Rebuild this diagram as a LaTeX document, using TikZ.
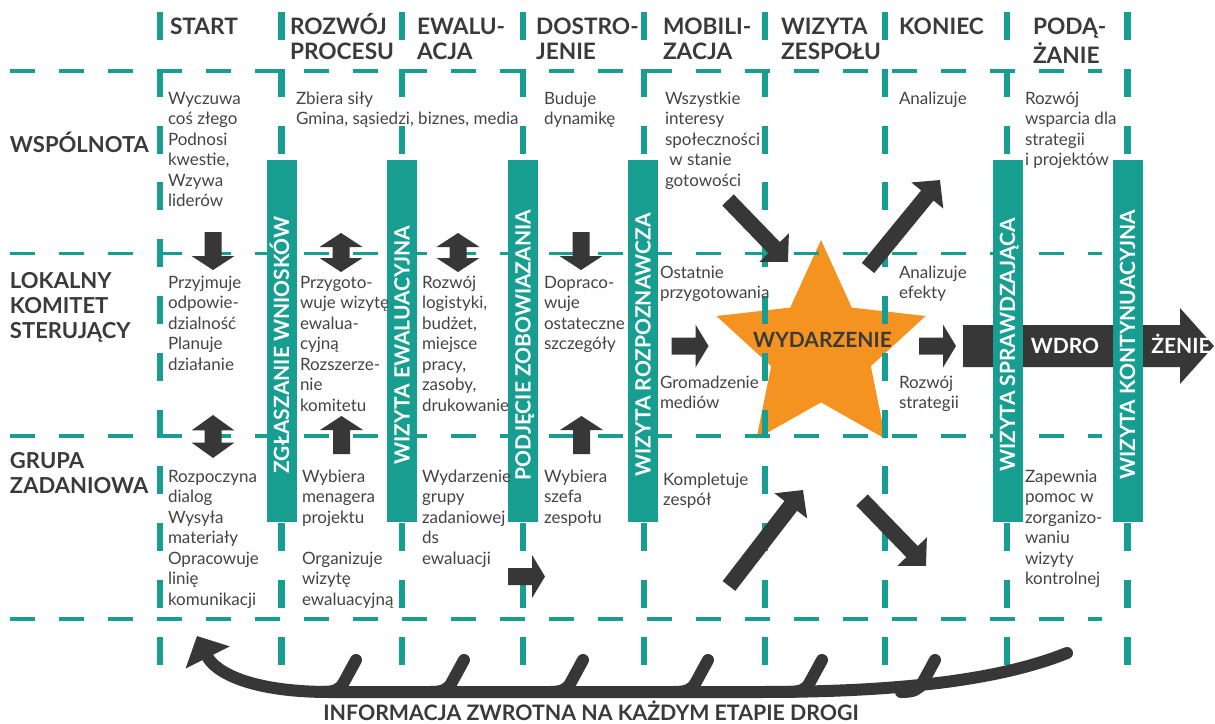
\documentclass[tikz,border=0pt]{standalone}
\usepackage{fontspec}
\setmainfont{Lato}
\usetikzlibrary{shapes.geometric,arrows.meta}

\definecolor{tealc}{RGB}{24,158,144}
\definecolor{arrowgray}{RGB}{55,55,55}
\definecolor{ink}{RGB}{58,58,58}
\definecolor{bodyink}{RGB}{68,68,68}
\definecolor{starorange}{RGB}{245,147,33}

\newcommand\bodyfont{\fontsize{12.75}{15.4}\selectfont}
\newcommand\headfont{\bfseries\fontsize{17}{18.75}\selectfont}
\newcommand\rowfont{\bfseries\fontsize{16.5}{18.75}\selectfont}
\newcommand\bandfont{\bfseries\fontsize{15.75}{16}\selectfont}
\newcommand\txtlines[1]{\begin{tabular}[t]{@{}l@{}}#1\end{tabular}}

\tikzset{
  every node/.style={inner sep=0pt, outer sep=0pt},
  body/.style={anchor=base west, font=\bodyfont, text=bodyink},
  head/.style={anchor=base west, font=\headfont, text=ink},
  rowlab/.style={anchor=base west, font=\rowfont, text=ink},
  bandbar/.style={fill=tealc, minimum width=22.5pt, minimum height=271.5pt},
  bandtxt/.style={rotate=90, anchor=center, font=\bandfont, text=white, text height=11.3pt, text depth=0pt},
  vgrid/.style={draw=tealc, line width=4.6pt, dash pattern=on 21pt off 21.6pt},
  hgrid/.style={draw=tealc, line width=2.3pt, dash pattern=on 19.1pt off 17.65pt},
  diag/.style={draw=arrowgray, line width=12pt, -{Triangle[width=30pt,length=15pt]}},
  fb/.style={draw=arrowgray, line width=9pt, line cap=round},
  pics/downblk/.style={code={\fill[arrowgray] (-8.5,-19) -- (8.5,-19) -- (8.5,5) -- (21.5,5) -- (0,19) -- (-21.5,5) -- (-8.5,5) -- cycle;}},
  pics/upblk/.style={code={\fill[arrowgray] (-8.5,19) -- (8.5,19) -- (8.5,-5) -- (21.5,-5) -- (0,-19) -- (-21.5,-5) -- (-8.5,-5) -- cycle;}},
  pics/updownblk/.style={code={\fill[arrowgray] (0,-19.5) -- (21.5,-5.5) -- (8.5,-5.5) -- (8.5,5.5) -- (21.5,5.5) -- (0,19.5) -- (-21.5,5.5) -- (-8.5,5.5) -- (-8.5,-5.5) -- (-21.5,-5.5) -- cycle;}},
  pics/rightblk/.style={code={\fill[arrowgray] (-18.5,-8.5) -- (5.5,-8.5) -- (5.5,-21.5) -- (18.5,0) -- (5.5,21.5) -- (5.5,8.5) -- (-18.5,8.5) -- cycle;}},
}

\begin{document}
\begin{tikzpicture}[x=0.75pt, y=-0.75pt]
\useasboundingbox (0,0) rectangle (1215,724);
\fill[white] (0,0) rectangle (1215,724);

% central event star
\node[star, star points=5, star point ratio=2.1, minimum size=165pt, fill=starorange] (star) at (821,350) {};

% dashed grid
\foreach \gx in {160,281.5,402,523,644,765,885,1007,1127.5}
  \draw[vgrid] (\gx,12) -- (\gx,665);
\foreach \gy in {71,253.5,436,619}
  \draw[hgrid] (10,\gy) -- (1102,\gy);

% implementation arrow
\fill[arrowgray] (963,325) -- (1180,325) -- (1180,308) -- (1214,346) -- (1180,384) -- (1180,367) -- (963,367) -- cycle;

% visit bands
\foreach \bx/\bn in {281.5/b1,402/b2,523/b3,643/b4,1007.5/b5,1127.5/b6}
  \node[bandbar] (\bn) at (\bx,341) {};
\node[bandtxt] (t1) at (281.5,345) {ZGŁASZANIE WNIOSKÓW};
\node[bandtxt] (t2) at (402,345) {WIZYTA EWALUACYJNA};
\node[bandtxt] (t3) at (523,345) {PODJĘCIE ZOBOWIAZANIA};
\node[bandtxt] (t4) at (643,345) {WIZYTA ROZPOZNAWCZA};
\node[bandtxt] (t5) at (1007.5,345) {WIZYTA SPRAWDZAJĄCA};
\node[bandtxt] (t6) at (1127.5,345) {WIZYTA KONTYNUACYJNA};

% stage headers
\node[head] (hStart) at (170,35) {START};
\node[head] (hRozwoj) at (290,35) {\txtlines{ROZWÓJ\\PROCESU}};
\node[head] (hEwal) at (417,35) {\txtlines{EWALU-\\ACJA}};
\node[head] (hDostr) at (536,35) {\txtlines{DOSTRO-\\JENIE}};
\node[head] (hMobil) at (663,35) {\txtlines{MOBILI-\\ZACJA}};
\node[head] (hWiz) at (781,35) {\txtlines{WIZYTA\\ZESPOŁU}};
\node[head] (hKon) at (899,35) {KONIEC};
\node[head] (hPod) at (1033,35) {\txtlines{PODĄ-\\ŻANIE}};

% row labels
\node[rowlab] (rWsp) at (10,152) {WSPÓLNOTA};
\node[rowlab] (rLok) at (10,288) {\txtlines{LOKALNY\\KOMITET\\STERUJĄCY}};
\node[rowlab] (rGrp) at (10,468) {\txtlines{GRUPA\\ZADANIOWA}};

% community row
\node[body] (a1) at (168,104) {\txtlines{Wyczuwa\\coś złego\\Podnosi\\kwestie,\\Wzywa\\liderów}};
\node[body] (a2) at (296,104) {\txtlines{Zbiera siły\\Gmina, sąsiedzi, biznes, media}};
\node[body] (a4) at (544,104) {\txtlines{Buduje\\dynamikę}};
\node[body] (a5) at (665,104) {\txtlines{Wszystkie\\interesy\\społeczności\\\ w stanie\\gotowości}};
\node[body] (a7) at (899,104) {Analizuje};
\node[body] (a8) at (1025,104) {\txtlines{Rozwój\\wsparcia dla\\strategii\\i projektów}};

% steering committee row
\node[body] (b1t) at (168,288) {\txtlines{Przyjmuje\\odpowie-\\dzialność\\Planuje\\działanie}};
\node[body] (b2t) at (300,288) {\txtlines{Przygoto-\\wuje wizytę\\ewalua-\\cyjną\\Rozszerze-\\nie\\komitetu}};
\node[body] (b3t) at (422,288) {\txtlines{Rozwój\\logistyki,\\budżet,\\miejsce\\pracy,\\zasoby,\\drukowanie}};
\node[body] (b4t) at (544,288) {\txtlines{Dopraco-\\wuje\\ostateczne\\szczegóły}};
\node[body] (b5t) at (660,278) {\txtlines{Ostatnie\\przygotowania}};
\node[body] (b5u) at (660,388) {\txtlines{Gromadzenie\\mediów}};
\node[body] (b7t) at (899,278) {\txtlines{Analizuje\\efekty}};
\node[body] (b7u) at (899,388) {\txtlines{Rozwój\\strategii}};

% task group row
\node[body] (c1t) at (168,482) {\txtlines{Rozpoczyna\\dialog\\Wysyła\\materiały\\Opracowuje\\linię\\komunikacji}};
\node[body] (c2t) at (302,482) {\txtlines{Wybiera\\menagera\\projektu\\ \\Organizuje\\wizytę\\ewaluacyjną}};
\node[body] (c3t) at (422,482) {\txtlines{Wydarzenie\\grupy\\zadaniowej\\ds\\ewaluacji}};
\node[body] (c4t) at (544,482) {\txtlines{Wybiera\\szefa\\zespołu}};
\node[body] (c5t) at (663,485) {\txtlines{Kompletuje\\zespół}};
\node[body] (c8t) at (1025,482) {\txtlines{Zapewnia\\pomoc w\\zorganizo-\\waniu\\wizyty\\kontrolnej}};

% block arrows between rows
\pic at (213,251) {downblk};
\pic at (581,251) {downblk};
\pic at (341,252.5) {updownblk};
\pic at (458,252.5) {updownblk};
\pic[yscale=1.1] at (213,436.5) {updownblk};
\pic at (341.5,435) {upblk};
\pic at (581.5,435) {upblk};
\pic at (526.5,576.5) {rightblk};
\pic at (690,346) {rightblk};
\pic at (937.5,346) {rightblk};

% event text and implementation labels
\node[anchor=base, font=\bfseries\fontsize{15.75}{18}\selectfont, text=ink] (ev) at (822.5,347) {WYDARZENIE};
\node[anchor=base, font=\bfseries\fontsize{15.75}{18}\selectfont, text=white] (wdro) at (1065,353) {WDRO};
\node[anchor=base, font=\bfseries\fontsize{15.75}{18}\selectfont, text=white] (zenie) at (1181,353) {ŻENIE};

% diagonal arrows around the event
\coordinate (d1s) at (728,200); \coordinate (d1e) at (788,262);
\coordinate (d2s) at (868,268); \coordinate (d2e) at (940,180);
\coordinate (d3s) at (729,586); \coordinate (d3e) at (803,490);
\coordinate (d4s) at (862,500); \coordinate (d4e) at (926,566);
\draw[diag] (d1s) -- (d1e);
\draw[diag] (d2s) -- (d2e);
\draw[diag] (d3s) -- (d3e);
\draw[diag] (d4s) -- (d4e);

% feedback loop
\coordinate (fbS) at (1067,653);
\coordinate (fbE) at (197,636);
\draw[fb, -{Triangle[width=36pt,length=18pt]}] (fbS) .. controls (1000,680) and (900,692) .. (760,692) -- (330,692) .. controls (250,692) and (215,672) .. (fbE);
\foreach \tx in {356,464,583,708,822,935}
  \draw[fb] (\tx,660) -- ({\tx-12},682) .. controls ({\tx-16},690) and ({\tx-22},692) .. ({\tx-34},692);
\node[anchor=base, font=\bfseries\fontsize{16}{18}\selectfont, text=ink] (fbLabel) at (591,720) {INFORMACJA ZWROTNA NA KAŻDYM ETAPIE DROGI};
\end{tikzpicture}
\end{document}
